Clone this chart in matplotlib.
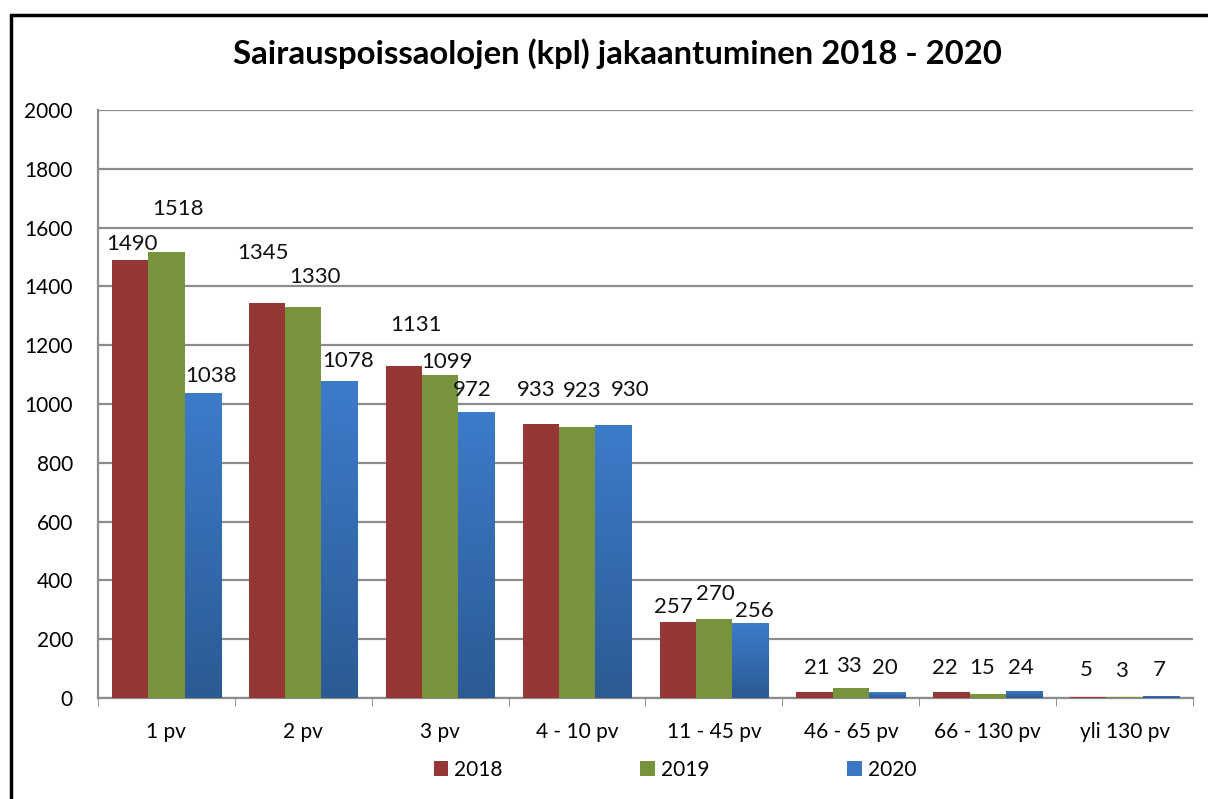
import matplotlib.pyplot as plt
import numpy as np
from matplotlib.colors import LinearSegmentedColormap
from matplotlib.patches import Rectangle

categories = ["1 pv", "2 pv", "3 pv", "4 - 10 pv", "11 - 45 pv", "46 - 65 pv", "66 - 130 pv", "yli 130 pv"]
years = ["2018", "2019", "2020"]
values_2018 = [1490, 1345, 1131, 933, 257, 21, 22, 5]
values_2019 = [1518, 1330, 1099, 923, 270, 33, 15, 3]
values_2020 = [1038, 1078, 972, 930, 256, 20, 24, 7]

# hand-placed label offsets (pixels, relative to bar top centre), like the original Excel chart
label_dx = [
    [2, -4, 12, -5, -4, 2, -7, -2],
    [12, 12, 7, 5, 1, -2, -6, -3],
    [8, 9, -4, 17, 4, -2, -3, -2],
]
label_dy = [
    [16, 50, 41, 34, 15, 24, 24, 27],
    [43, 30, 13, 36, 25, 22, 26, 26],
    [17, 20, 22, 35, 12, 24, 23, 26],
]

plt.rcParams["font.family"] = ["Lato", "DejaVu Sans"]

fig = plt.figure(figsize=(12.08, 7.99), dpi=100)
ax = fig.add_axes([0.0811, 0.1264, 0.9065, 0.7359])

# outer chart border (only left/top visible in the reference)
fig.patches.append(Rectangle((0.0095, -0.1), 1.2, 0.1 + 0.9815, transform=fig.transFigure,
                             fill=False, edgecolor="black", linewidth=2.5))

x = np.arange(len(categories))
width = 0.265
series = [values_2018, values_2019, values_2020]
colors = ["#953735", "#77933C", "#3A78C4"]
blue_grad = LinearSegmentedColormap.from_list("blue_grad", ["#2C5A94", "#3C7CCA"])

for i, (vals, col, year) in enumerate(zip(series, colors, years)):
    bars = ax.bar(x + (i - 1) * width, vals, width, color=col, label=year, zorder=3)
    if year == "2020":
        # vertical gradient for the blue bars
        grad = np.linspace(0, 1, 256).reshape(-1, 1)
        for b in bars:
            im = ax.imshow(grad, cmap=blue_grad, aspect="auto", origin="lower", zorder=3.5,
                           extent=[b.get_x(), b.get_x() + b.get_width(), 0, b.get_height()])
            im.set_clip_path(b)
    for j, (xi, v) in enumerate(zip(x + (i - 1) * width, vals)):
        ax.annotate(str(v), (xi, v), xytext=(label_dx[i][j], label_dy[i][j]),
                    textcoords="offset pixels", ha="center", va="center",
                    fontsize=16, color="#111111", zorder=5)

ax.set_xlim(-0.5, len(categories) - 0.5)
ax.set_ylim(0, 2000)
ax.set_yticks(range(0, 2001, 200))
ax.set_xticks(x)
ax.set_xticklabels(categories, fontsize=15)
ax.set_xticks(np.arange(-0.5, len(categories), 1), minor=True)
ax.tick_params(axis="x", which="major", length=0, pad=17)
ax.tick_params(axis="x", which="minor", length=6, color="#808080")
ax.tick_params(axis="y", length=0, pad=18, labelsize=15)

ax.grid(axis="y", color="#8C8C8C", linewidth=1.6, zorder=0)
for side in ["top", "right"]:
    ax.spines[side].set_visible(False)
for side in ["left", "bottom"]:
    ax.spines[side].set_color("#8C8C8C")
    ax.spines[side].set_linewidth(1.6)

fig.text(0.511, 0.933, "Sairauspoissaolojen (kpl) jakaantuminen 2018 - 2020",
         ha="center", va="center", fontsize=23.7, fontweight="bold")

ax.legend(loc="center", bbox_to_anchor=(0.527, -0.122), ncol=3, frameon=False,
          fontsize=15, handlelength=0.7, handleheight=0.7, handletextpad=0.3,
          columnspacing=6.6)

fig.savefig("out.png", dpi=100)
